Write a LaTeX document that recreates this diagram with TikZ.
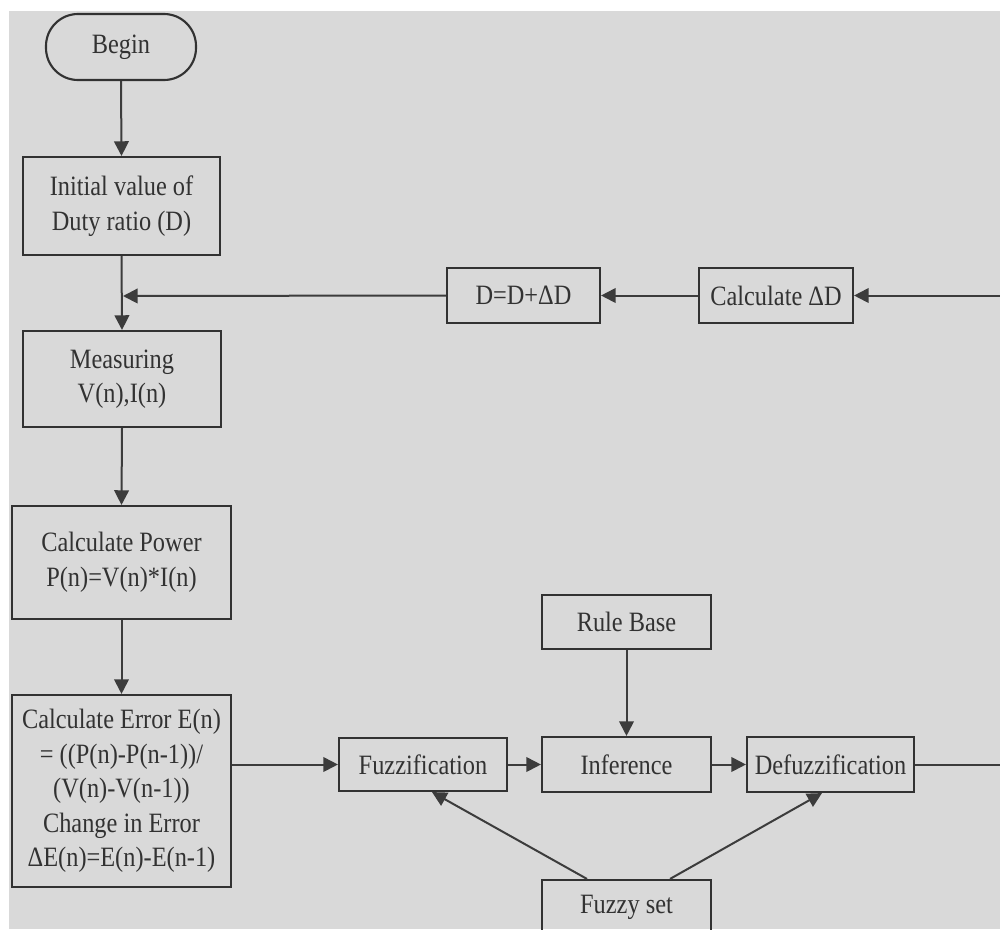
\documentclass[tikz,border=0pt]{standalone}
\usepackage{fontspec}
\setmainfont{Liberation Serif}[FakeStretch=0.87]
\usetikzlibrary{arrows.meta,calc}
\definecolor{bg}{RGB}{217,217,217}
\definecolor{ink}{RGB}{50,50,50}
\definecolor{wire}{RGB}{60,60,60}
\tikzset{
  box/.style={draw=ink, line width=1.6pt, rectangle, align=center, inner sep=0pt,
    text=ink, font=\fontsize{21}{25.9}\selectfont},
  term/.style={box, rounded corners=24pt},
  arr/.style={draw=wire, line width=1.5pt, -{Triangle[length=11pt,width=11pt]}},
  wireline/.style={draw=wire, line width=1.5pt},
}
\begin{document}
\begin{tikzpicture}[x=0.75pt,y=-0.75pt]
\useasboundingbox (0,0) rectangle (1000,929);
\clip (0,0) rectangle (1000,929);
\fill[white] (0,0) rectangle (1000,929);
\fill[bg] (9,11) rectangle (1000,929);

\node[term, minimum width=112.5pt, minimum height=49.5pt] (begin) at (121,47) {Begin};
\node[box, minimum width=147.75pt, minimum height=73.5pt] (init) at (121.5,206) {Initial value of\\Duty ratio (D)};
\node[box, minimum width=148.5pt, minimum height=72pt] (meas) at (122,379) {Measuring\\V(n),I(n)};
\node[box, minimum width=164.25pt, minimum height=84.75pt] (power) at (121.5,562.5) {Calculate Power\\P(n)=V(n)*I(n)};
\node[box, minimum width=164.25pt, minimum height=144pt] (error) at (121.5,791) {Calculate Error E(n)\\= ((P(n)-P(n-1))/\\(V(n)-V(n-1))\\Change in Error\\ΔE(n)=E(n)-E(n-1)};

\node[box, minimum width=114.75pt, minimum height=41.25pt] (dd) at (523.5,295.5) {D=D+ΔD};
\node[box, minimum width=115.5pt, minimum height=41.25pt] (calc) at (776,295.5) {Calculate ΔD};

\node[box, minimum width=126.75pt, minimum height=40.5pt] (rule) at (626.5,622) {Rule Base};
\node[box, minimum width=126pt, minimum height=39.75pt] (fuzzif) at (423,764.5) {Fuzzification};
\node[box, minimum width=126.75pt, minimum height=41.25pt] (infer) at (626.5,764.5) {Inference};
\node[box, minimum width=125.25pt, minimum height=41.25pt] (defuzz) at (830.5,764.5) {Defuzzification};
\node[box, minimum width=126.75pt, minimum height=40.5pt] (fset) at (626.5,907) {Fuzzy set};

\coordinate (join) at (123,296);
\coordinate (rin) at (1003,295.5);
\coordinate (rout) at (1003,764.5);

\draw[arr] (begin.south) -- (init.north);
\draw[arr] (init.south) -- (meas.north);
\draw[arr] (meas.south) -- (power.north);
\draw[arr] (power.south) -- (error.north);

\draw[arr] (rin) -- (calc.east);
\draw[arr] (calc.west) -- (dd.east);
\draw[arr] (dd.west) -- (join);

\draw[arr] (fuzzif.west -| error.east) -- (fuzzif.west);
\draw[arr] (fuzzif.east) -- (infer.west);
\draw[arr] (infer.east) -- (defuzz.west);
\draw[arr] (rule.south) -- (infer.north);
\draw[wireline] (defuzz.east) -- (rout);

\draw[arr] ($(fset.north)+(-39.5,0)$) -- ($(fuzzif.south)+(9,0)$);
\draw[arr] ($(fset.north)+(43.5,0)$) -- ($(defuzz.south)+(-8.5,0)$);
\end{tikzpicture}
\end{document}
